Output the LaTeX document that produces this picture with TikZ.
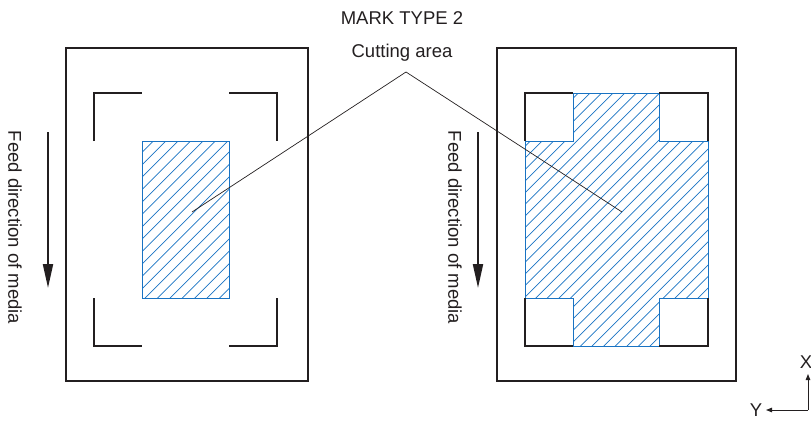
\documentclass[tikz,border=0pt]{standalone}
\usepackage{fontspec}
\setmainfont{Liberation Sans}
\usetikzlibrary{arrows.meta}
\definecolor{hatchblue}{RGB}{25,115,195}
\definecolor{ink}{RGB}{35,31,32}
\tikzset{
  sheet/.style={draw=ink, line width=1.3pt},
  markline/.style={draw=ink, line width=2.4pt, line cap=butt, line join=miter},
  areaoutline/.style={draw=hatchblue, line width=1pt},
  hatchline/.style={draw=hatchblue, line width=0.7pt},
  leader/.style={draw=ink, line width=0.7pt},
  feedarrow/.style={draw=ink, line width=2pt, -{Triangle[length=24pt,width=10pt]}},
  axisarrow/.style={draw=ink, line width=1pt, -{Triangle[length=6pt,width=4.5pt]}},
  lbl/.style={font=\fontsize{18.5}{20}\selectfont, text=ink, inner sep=0pt},
}
\begin{document}
\begin{tikzpicture}[x=1pt,y=-1pt]
\useasboundingbox (0,0) rectangle (811,421);

% titles
\node[lbl] (title) at (402,18) {MARK TYPE 2};
\node[lbl] (cut) at (402,53) {Cutting area};
\coordinate (apex) at (406,72);

% ===== left panel =====
\draw[sheet] (66,48) rectangle (308,381);
\coordinate (la1) at (142,141);
\coordinate (la2) at (229,298);
\begin{scope}
  \clip (la1) rectangle (la2);
  \foreach \k in {0,...,24} {
    \draw[hatchline] ({142-170+\k*12.4},310) -- ++(190,-190);
  }
\end{scope}
\draw[areaoutline] (la1) rectangle (la2);
% corner marks
\draw[markline] (94,141) -- (94,93) -- (142,93);
\draw[markline] (229,93) -- (277,93) -- (277,141);
\draw[markline] (94,298) -- (94,346) -- (142,346);
\draw[markline] (229,346) -- (277,346) -- (277,298);
\coordinate (lend) at (192,212);

% feed arrow and text (left)
\coordinate (fa1) at (48,132);
\coordinate (fa2) at (48,288);
\draw[feedarrow] (fa1) -- (fa2);
\node[lbl, rotate=-90] (feedL) at (15,227.5) {Feed direction of media};

% ===== right panel =====
\draw[sheet] (497,48) rectangle (736,381);
\def\crosspath{(573,93) -- (659,93) -- (659,141) -- (708,141) -- (708,298) -- (659,298) -- (659,346) -- (573,346) -- (573,298) -- (525,298) -- (525,141) -- (573,141) -- cycle}
\begin{scope}
  \clip \crosspath;
  \foreach \k in {0,...,45} {
    \draw[hatchline] ({525-260+\k*11.6},360) -- ++(280,-280);
  }
\end{scope}
\draw[areaoutline] \crosspath;
\draw[markline] (525,141) -- (525,93) -- (573,93);
\draw[markline] (659,93) -- (708,93) -- (708,141);
\draw[markline] (525,298) -- (525,346) -- (573,346);
\draw[markline] (659,346) -- (708,346) -- (708,298);
\coordinate (rend) at (622,212);

% feed arrow and text (right)
\coordinate (fb1) at (478,132);
\coordinate (fb2) at (478,288);
\draw[feedarrow] (fb1) -- (fb2);
\node[lbl, rotate=-90] (feedR) at (455,227.5) {Feed direction of media};

% leaders
\draw[leader] (lend) -- (apex) -- (rend);

% axes
\coordinate (origin) at (808,410);
\coordinate (xend) at (808,374);
\coordinate (yend) at (766,410);
\draw[axisarrow] (origin) -- (xend);
\draw[axisarrow] (origin) -- (yend);
\node[lbl] (xl) at (806,362) {X};
\node[lbl] (yl) at (756,410) {Y};
\end{tikzpicture}
\end{document}
